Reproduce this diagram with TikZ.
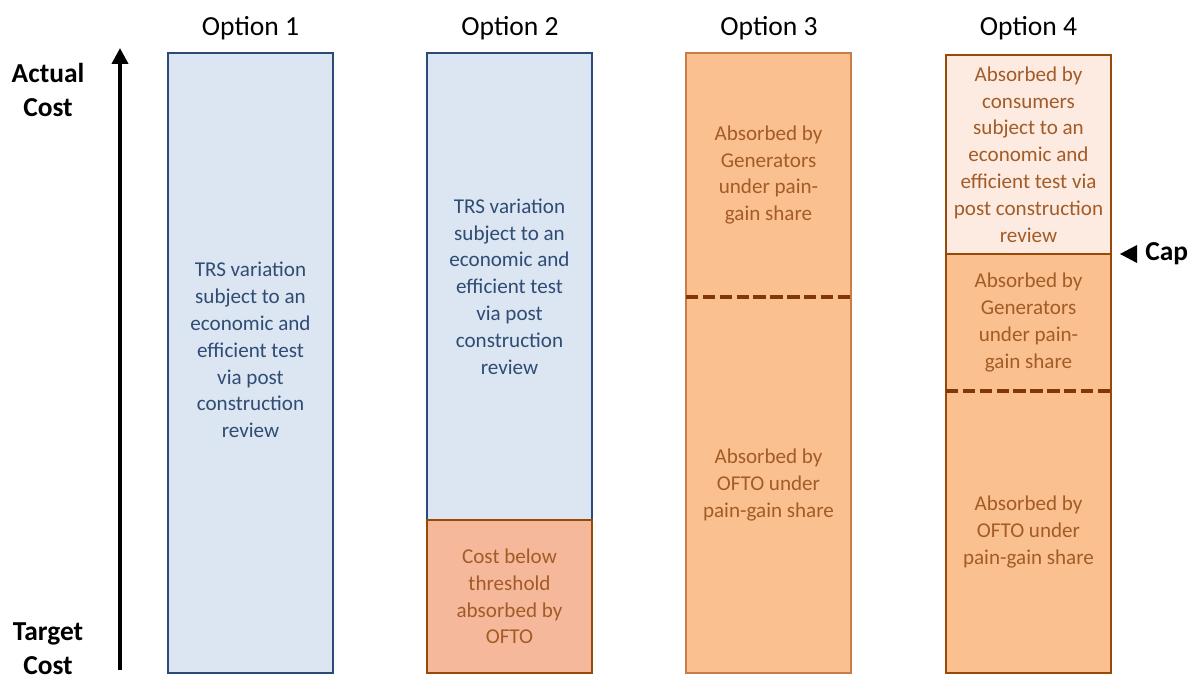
\documentclass[tikz,border=0pt]{standalone}
\usepackage{fontspec}
\setmainfont{Carlito}
\usepackage{xcolor}
\usepackage{tikz}
\usetikzlibrary{positioning, calc, arrows.meta}

\definecolor{bluefill}{HTML}{DCE6F2}
\definecolor{blueline}{HTML}{2C4A78}
\definecolor{bluetext}{HTML}{2F4C74}
\definecolor{orangefill}{HTML}{FAC090}
\definecolor{salmonfill}{HTML}{F5B89A}
\definecolor{palefill}{HTML}{FDEBE2}
\definecolor{brownline}{HTML}{984807}
\definecolor{lightbrown}{HTML}{C77D45}
\definecolor{browntext}{HTML}{A35C26}
\definecolor{dashbrown}{HTML}{833606}

\tikzset{
  seg/.style={anchor=south west, minimum width=3.3cm, inner sep=0pt, outer sep=0pt,
    align=center, font=\fontsize{12}{15.25}\selectfont},
  blueseg/.style={seg, fill=bluefill, draw=blueline, line width=0.9pt, text=bluetext},
  orangeseg/.style={seg, fill=orangefill, text=browntext},
  heading/.style={font=\fontsize{15.7}{19}\selectfont},
  sidelabel/.style={font=\fontsize{15.6}{19.2}\selectfont\bfseries, align=center},
  splitline/.style={dash pattern=on 7pt off 2.6pt, line width=2.3pt, dashbrown}
}

\begin{document}
\begin{tikzpicture}
  \useasboundingbox (0,0) rectangle (23.9,13.58);
  % Cost axis
  \coordinate (base) at (2.4,0.18);
  \coordinate (top) at (2.4,12.62);
  \draw[-{Triangle[length=0.32cm, width=0.32cm]}, line width=2.2pt] (base) -- (top);
  \node[sidelabel] (actual) at (0.96,11.78) {Actual\\Cost};
  \node[sidelabel] (target) at (0.96,0.6) {Target\\Cost};
  % Option 1
  \node[blueseg, minimum height=12.4cm] (o1) at (3.36,0.12) {};
  \node[text=bluetext, align=center, font=\fontsize{12}{15.25}\selectfont] (t1) at (5.01,6.58)
    {TRS variation\\subject to an\\economic and\\efficient test\\via post\\construction\\review};
  % Option 2
  \node[blueseg, minimum height=9.34cm] (o2top) at (8.54,3.18)
    {TRS variation\\subject to an\\economic and\\efficient test\\via post\\construction\\review};
  \node[seg, fill=salmonfill, draw=brownline, line width=1.6pt, text=browntext,
    minimum height=3.06cm] (o2bot) at (8.54,0.12)
    {Cost below\\threshold\\absorbed by\\OFTO};
  % Option 3
  \node[orangeseg, minimum height=7.52cm] (o3bot) at (13.72,0.12)
    {Absorbed by\\OFTO under\\pain-gain share};
  \node[orangeseg, minimum height=4.88cm] (o3top) at (13.72,7.64)
    {Absorbed by\\Generators\\under pain-\\gain share};
  \draw[lightbrown, line width=0.9pt] (o3bot.south west) rectangle (o3top.north east);
  \draw[splitline] (o3top.south west) -- (o3top.south east);
  % Option 4
  \node[orangeseg, minimum height=5.64cm] (o4bot) at (18.92,0.12)
    {Absorbed by\\OFTO under\\pain-gain share};
  \node[orangeseg, minimum height=2.74cm] (o4mid) at (18.92,5.76)
    {Absorbed by\\Generators\\under pain-\\gain share};
  \draw[brownline, line width=1.6pt] (o4bot.south west) rectangle (o4mid.north east);
  \draw[splitline] (o4bot.north west) -- (o4bot.north east);
  \node[seg, fill=palefill, draw=brownline, line width=1.6pt, text=browntext,
    minimum height=3.98cm] (o4top) at (18.92,8.5)
    {Absorbed by\\consumers\\subject to an\\economic and\\efficient test via\\post construction\\review};
  % Cap marker
  \node[sidelabel, anchor=west, inner sep=0pt] (cap) at (22.9,8.5) {Cap};
  \fill ($(cap.west)+(-0.16,0.18)$) -- ++(-0.34,-0.18) -- ++(0.34,-0.18) -- cycle;
  % Headings
  \node[heading] (h1) at (5.01,13.02) {Option 1};
  \node[heading] (h2) at (10.2,13.02) {Option 2};
  \node[heading] (h3) at (15.38,13.02) {Option 3};
  \node[heading] (h4) at (20.57,13.02) {Option 4};
\end{tikzpicture}
\end{document}
